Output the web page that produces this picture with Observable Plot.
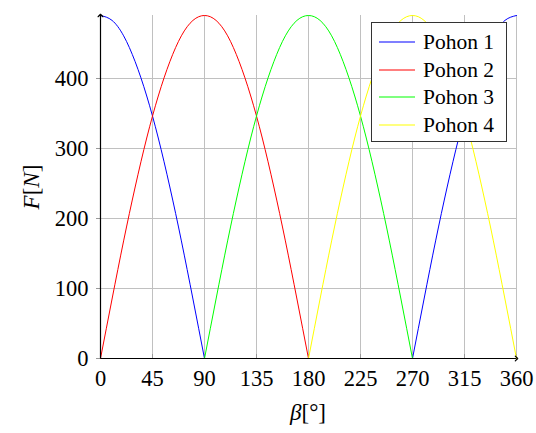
<!DOCTYPE html>
<html>
<head>
<meta charset="utf-8">
<script src="https://cdn.jsdelivr.net/npm/d3@7"></script>
<script src="https://cdn.jsdelivr.net/npm/@observablehq/plot@0.6"></script>
<style>
  html, body { margin: 0; padding: 0; background: #fff; }
  #wrap { position: relative; width: 536px; height: 433px; font-family: "Liberation Serif", serif; color: #000; }
  #legend { position: absolute; left: 371px; top: 22px; width: 134px; height: 118px; border: 1px solid #333; background: #fff; box-sizing: content-box; }
  .row { position: absolute; left: 0; height: 28px; font-size: 21.5px; line-height: 28px; }
  .sw { position: absolute; left: 7px; top: 13px; width: 36px; height: 2px; }
  .txt { position: absolute; left: 51px; top: 0; white-space: nowrap; }
  .lab { position: absolute; font-size: 23px; white-space: nowrap; }
</style>
</head>
<body>
<div id="wrap">
  <div id="chart"></div>
  <div id="legend"></div>
  <div class="lab" id="ylab" style="left:32px; top:187px; transform: translate(-50%,-50%) rotate(-90deg);"><i>F</i>[<i>N</i>]</div>
  <div class="lab" id="xlab" style="left:308px; top:413px; transform: translate(-50%,-50%);"><i>β</i>[°]</div>
</div>
<script>
// angles in degrees
const beta = [0,10,20,30,40,50,60,70,80,90,100,110,120,130,140,150,160,170,180,
              190,200,210,220,230,240,250,260,270,280,290,300,310,320,330,340,350,360];
const seriesNames = ["Pohon 1", "Pohon 2", "Pohon 3", "Pohon 4"];
const seriesColors = ["#0000ff", "#ff0000", "#00ff00", "#ffff00"];
const N = null;
const pohon1 = [490,483,461,424,375,315,245,168,85,0, N,N,N,N,N,N,N,N,N,N,N,N,N,N,N,N,N, 0,85,168,245,315,375,424,461,483,490];
const pohon2 = [0,85,168,245,315,375,424,461,483,490,483,461,424,375,315,245,168,85,0, N,N,N,N,N,N,N,N,N,N,N,N,N,N,N,N,N,N];
const pohon3 = [N,N,N,N,N,N,N,N,N, 0,85,168,245,315,375,424,461,483,490,483,461,424,375,315,245,168,85,0, N,N,N,N,N,N,N,N,N];
const pohon4 = [N,N,N,N,N,N,N,N,N,N,N,N,N,N,N,N,N,N, 0,85,168,245,315,375,424,461,483,490,483,461,424,375,315,245,168,85,0];
const xTicks = [0,45,90,135,180,225,270,315,360];
const yTicks = [0,100,200,300,400];
const xDomain = [0,360];
const yDomain = [0,490];

const allSeries = [pohon1, pohon2, pohon3, pohon4];
const data = [];
allSeries.forEach((vals, i) => {
  beta.forEach((b, j) => data.push({beta: b, F: vals[j], series: seriesNames[i]}));
});

const axes = [
  {x1: xDomain[0], y1: yDomain[0], x2: xDomain[1], y2: yDomain[0]},
  {x1: xDomain[0], y1: yDomain[0], x2: xDomain[0], y2: yDomain[1]}
];

const chart = Plot.plot({
  width: 536,
  height: 433,
  marginLeft: 100,
  marginRight: 20,
  marginTop: 15,
  marginBottom: 75,
  style: {fontFamily: "'Liberation Serif', serif", fontSize: "22px", background: "transparent", color: "#000"},
  x: {type: "linear", domain: xDomain, label: null},
  y: {type: "linear", domain: yDomain, label: null},
  color: {domain: seriesNames, range: seriesColors},
  marks: [
    Plot.gridX(xTicks, {stroke: "#c0c0c0", strokeOpacity: 1, strokeWidth: 1}),
    Plot.gridY(yTicks, {stroke: "#c0c0c0", strokeOpacity: 1, strokeWidth: 1}),
    Plot.axisX(xTicks, {tickSize: -4, tickFormat: () => "", stroke: "#999", label: null}),
    Plot.axisY(yTicks, {tickSize: 4, tickFormat: () => "", stroke: "#999", label: null}),
    Plot.axisX(xTicks, {tickSize: 0, tickPadding: 12, label: null, fontSize: 22.5}),
    Plot.axisY(yTicks, {tickSize: 0, tickPadding: 12, label: null, fontSize: 22.5}),
    Plot.line(data, {x: "beta", y: "F", z: "series", stroke: "series", strokeWidth: 1, curve: "natural"}),
    Plot.link(axes, {x1: "x1", y1: "y1", x2: "x2", y2: "y2", stroke: "#000", strokeWidth: 1.2, markerEnd: "arrow"})
  ]
});
document.getElementById("chart").appendChild(chart);

const legend = document.getElementById("legend");
const rowTops = [5, 33, 60, 88];
seriesNames.forEach((name, i) => {
  const row = document.createElement("div");
  row.className = "row";
  row.style.top = rowTops[i] + "px";
  row.innerHTML = `<svg class="sw" width="36" height="2"><line x1="0" x2="36" y1="1" y2="1" stroke="${seriesColors[i]}" stroke-width="1.2"/></svg><span class="txt">${name}</span>`;
  legend.appendChild(row);
});
</script>
</body>
</html>
